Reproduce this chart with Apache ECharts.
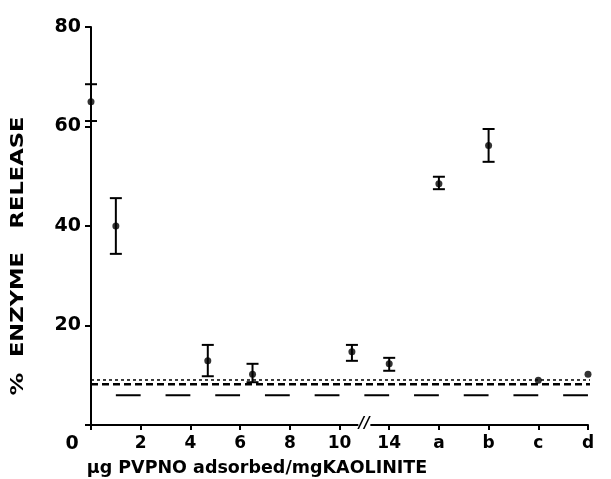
<!DOCTYPE html>
<html>
<head>
<meta charset="utf-8">
<script src="https://cdn.jsdelivr.net/npm/echarts@6/dist/echarts.min.js"></script>
<style>
  html, body { margin: 0; padding: 0; background: #fff; }
  #chart { width: 611px; height: 479px; }
</style>
</head>
<body>
<div id="chart"></div>
<script>
// tick positions along x (evenly spaced, axis broken between 10 and 14)
const tickPos = [0, 2, 4, 6, 8, 10, 12, 14, 16, 18, 20];
const tickText = ['0', '2', '4', '6', '8', '10', '14', 'a', 'b', 'c', 'd'];

// measured points (x position on the spaced axis)
const pointX = [0, 1, 4.7, 6.5, 10.5, 12, 14, 16, 18, 20];
const pointMean = [65, 40, 12.9, 10.2, 14.7, 12.3, 48.5, 56.2, 9.0, 10.2];
const pointHigh = [68.5, 45.6, 16.1, 12.3, 16.1, 13.5, 49.9, 59.5, null, null];
const pointLow = [61.1, 34.4, 9.8, 8.6, 12.9, 10.9, 47.4, 52.9, null, null];

// reference levels (control lines)
const dottedLevel = 9.05;
const dashLevel = 8.2;
const longDashLevel = 6.0;
const lineStart = 0;
const lineEnd = 20.9;
const longDashStart = 1;
const longDashEnd = 20;
const breakAt = 11;

const fontFam = '"DejaVu Sans", sans-serif';

const labelFor = (v) => {
  const i = tickPos.indexOf(v);
  if (i < 0) return '';
  if (v === 0) return '{z|' + tickText[i] + '}';
  return tickText[i];
};

const getOption = () => {
  const pts = pointX.map((x, i) => [x, pointMean[i]]);
  const bars = pointX
    .map((x, i) => [x, pointLow[i], pointHigh[i]])
    .filter(d => d[1] != null);

  return {
    animation: false,
    grid: { left: 91, right: 23, top: 27, bottom: 54, outerBoundsMode: 'none', containLabel: false },
    // y axis title, stretched to the wide lettering of the original
    graphic: [{
      type: 'text',
      x: 19,
      y: 256,
      rotation: Math.PI / 2,
      scaleX: 1.33,
      style: {
        text: '%  ENZYME   RELEASE',
        font: 'bold 17px ' + fontFam,
        fill: '#000',
        align: 'center',
        verticalAlign: 'middle'
      }
    }],
    xAxis: {
      type: 'value',
      min: 0,
      max: 20,
      interval: 2,
      splitLine: { show: false },
      axisLine: { lineStyle: { color: '#000', width: 2 } },
      axisTick: { length: 5, lineStyle: { color: '#000', width: 2 } },
      axisLabel: {
        formatter: labelFor,
        color: '#000',
        fontFamily: fontFam,
        fontWeight: 'bold',
        fontSize: 17,
        margin: 10,
        rich: {
          z: { fontFamily: fontFam, fontWeight: 'bold', fontSize: 19, color: '#000', padding: [0, 38, 0, 0] }
        }
      },
      name: 'µg PVPNO adsorbed/mgKAOLINITE',
      nameLocation: 'middle',
      nameGap: 34,
      nameTextStyle: {
        color: '#000',
        fontFamily: fontFam,
        fontWeight: 'bold',
        fontSize: 17.5,
        padding: [0, 165, 0, 0]
      }
    },
    yAxis: {
      type: 'value',
      min: 0,
      max: 80,
      interval: 20,
      splitLine: { show: false },
      axisLine: { lineStyle: { color: '#000', width: 2 } },
      axisTick: { length: 6, lineStyle: { color: '#000', width: 2 } },
      axisLabel: {
        formatter: (v) => (v === 0 ? '' : String(v)),
        color: '#000',
        fontFamily: fontFam,
        fontWeight: 'bold',
        fontSize: 19,
        margin: 10,
        verticalAlign: 'middle',
        padding: [0, 0, 12, 0]
      }
    },
    series: [
      {
        type: 'line',
        data: [[lineStart, dottedLevel], [lineEnd, dottedLevel]],
        symbol: 'none',
        clip: false,
        lineStyle: { color: '#000', width: 1.5, type: [3, 3] },
        z: 2
      },
      {
        type: 'line',
        data: [[lineStart, dashLevel], [lineEnd, dashLevel]],
        symbol: 'none',
        clip: false,
        lineStyle: { color: '#000', width: 2.5, type: [7, 4] },
        z: 2
      },
      {
        type: 'line',
        data: [[longDashStart, longDashLevel], [longDashEnd, longDashLevel]],
        symbol: 'none',
        lineStyle: { color: '#000', width: 2, type: [24.8, 24.9] },
        markPoint: {
          symbol: 'rect',
          symbolSize: [12, 6],
          itemStyle: { color: '#fff' },
          label: {
            show: true,
            formatter: '//',
            color: '#000',
            fontFamily: fontFam,
            fontWeight: 'bold',
            fontStyle: 'italic',
            fontSize: 15,
            offset: [0, -1]
          },
          data: [{ coord: [breakAt, 0] }]
        },
        z: 2
      },
      {
        type: 'custom',
        data: bars,
        renderItem: (params, api) => {
          const x = api.value(0);
          const lo = api.coord([x, api.value(1)]);
          const hi = api.coord([x, api.value(2)]);
          const w = 6;
          const style = { stroke: '#000', lineWidth: 2 };
          return {
            type: 'group',
            children: [
              { type: 'line', shape: { x1: lo[0], y1: lo[1], x2: hi[0], y2: hi[1] }, style },
              { type: 'line', shape: { x1: hi[0] - w, y1: hi[1], x2: hi[0] + w, y2: hi[1] }, style },
              { type: 'line', shape: { x1: lo[0] - w, y1: lo[1], x2: lo[0] + w, y2: lo[1] }, style }
            ]
          };
        },
        z: 3
      },
      {
        type: 'scatter',
        data: pts,
        symbol: 'circle',
        symbolSize: 7,
        itemStyle: { color: '#000' },
        z: 4
      }
    ]
  };
};

const chart = echarts.init(document.getElementById('chart'));
chart.setOption(getOption());
</script>
</body>
</html>
